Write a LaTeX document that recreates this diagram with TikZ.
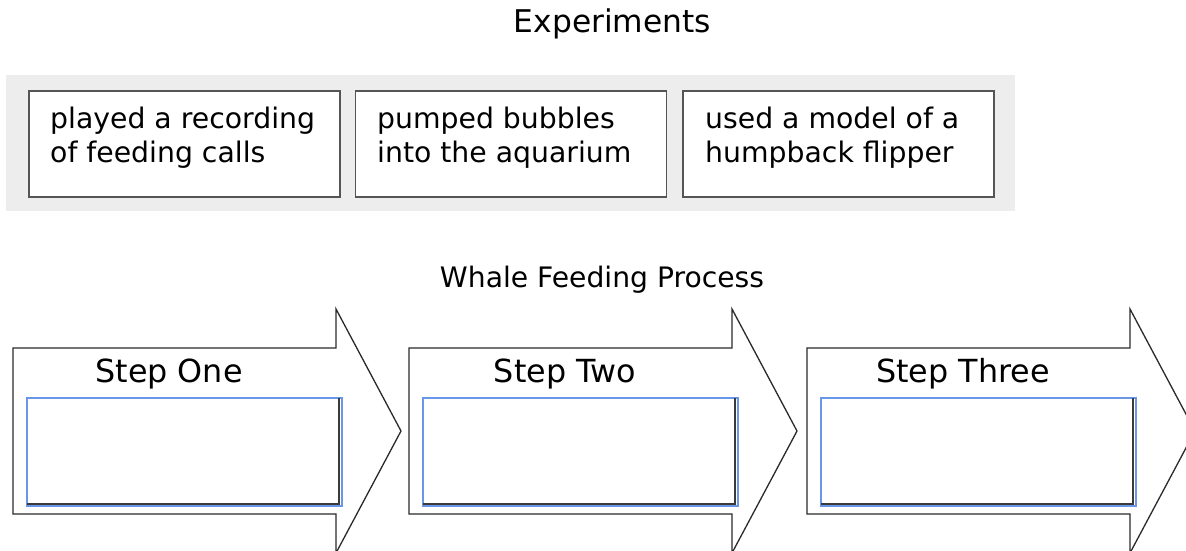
\documentclass[tikz,border=0pt]{standalone}
\usepackage{fontspec}
\setmainfont{DejaVu Sans}
\definecolor{panelgray}{HTML}{EDEDED}
\definecolor{boxline}{HTML}{555555}
\definecolor{arrowline}{HTML}{2A2A2A}
\definecolor{fieldblue}{HTML}{6A96E8}
\definecolor{fielddark}{HTML}{3A3A3A}
\begin{document}
\begin{tikzpicture}[x=1pt,y=-1pt,
  titletext/.style={inner sep=0, font=\fontsize{31.3}{36}\selectfont},
  subtitletext/.style={inner sep=0, font=\fontsize{28.2}{32}\selectfont},
  panel/.style={draw=none, fill=panelgray, inner sep=0, anchor=north west},
  expbox/.style={draw=boxline, line width=1.5pt, fill=white, inner sep=0, anchor=north west, minimum width=311pt, minimum height=106pt},
  exptext/.style={inner sep=0, anchor=north west, align=left, font=\fontsize{28.3}{33.5}\selectfont},
  steparrow/.style={draw=arrowline, line width=1.3pt, fill=white, line join=miter},
  steptext/.style={inner sep=0, anchor=base, font=\fontsize{31.8}{36}\selectfont},
  fieldbox/.style={draw=fieldblue, line width=2pt, fill=white, inner sep=0, anchor=north west, minimum width=315pt, minimum height=108pt},
  fieldshade/.style={draw=fielddark, line width=1.3pt}
]
\useasboundingbox (0,0) rectangle (1186,550);
\node[titletext, anchor=base] (title) at (612.5,32) {Experiments};
\node[panel, minimum width=1009pt, minimum height=136pt] (panel) at (6,75) {};
\node[expbox] (b1) at (28,90) {};
\node[expbox] (b2) at (354.5,90) {};
\node[expbox] (b3) at (682,90) {};
\node[exptext] (b1t) at (50,107) {played a recording\\of feeding calls};
\node[exptext] (b2t) at (377,107) {pumped bubbles\\into the aquarium};
\node[exptext] (b3t) at (705,107) {used a model of a\\humpback flipper};
\node[subtitletext, anchor=base] (process) at (602,287) {Whale Feeding Process};
\foreach \x/\lab/\n in {13/Step One/1, 409/Step Two/2, 807/Step Three/3}{
  \draw[steparrow] (\x,348) -- (\x+323,348) -- (\x+323,309) -- (\x+388,431)
     -- (\x+323,553) -- (\x+323,514) -- (\x,514) -- cycle;
  \node[steptext] (s\n) at (\x+156,382) {\lab};
  \node[fieldbox] (f\n) at (\x+13,397) {};
  \draw[fieldshade] ([xshift=1pt,yshift=3pt]f\n.south west) -- ([xshift=-4pt,yshift=3pt]f\n.south east) -- ([xshift=-4pt,yshift=-1pt]f\n.north east);
}
\end{tikzpicture}
\end{document}
